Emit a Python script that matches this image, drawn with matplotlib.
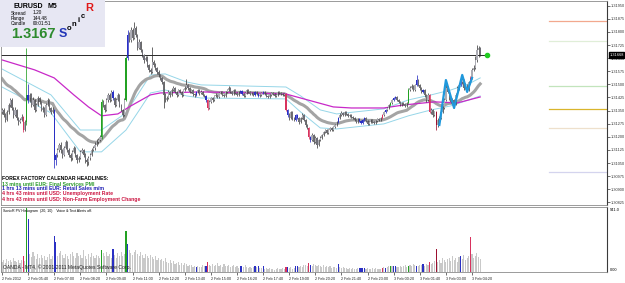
import numpy as np
import pandas as pd
import matplotlib
matplotlib.use("Agg")
import matplotlib.pyplot as plt
import matplotlib.transforms as mtransforms
from matplotlib.patches import Rectangle

plt.rcParams['font.family'] = ['Liberation Sans', 'DejaVu Sans']

# prices are kept in points (0.00001) above 1.30000, one entry per M5 bar
BASE = 1.30000
first_open = 1340
close_pts = [1354, 1325, 1297, 1342, 1382, 1411, 1365, 1325, 1354, 1308, 1285, 1297, 1314, 1239, 1285,
             1440,
             1411, 1440, 1382, 1411, 1354, 1382, 1422, 1400, 1354, 1365, 1325, 1382, 1411, 1365, 1342, 1354,
             1068,
             1096, 1125, 1154, 1125, 1096, 1136, 1171, 1125, 1096, 1079, 1114, 1136, 1096, 1068, 1079, 1114,
             1125, 1096, 1068, 1056, 1079, 1096, 1125, 1136, 1154, 1171, 1182, 1199,
             1400,
             1382, 1354, 1411, 1440, 1411, 1457, 1422, 1382, 1411, 1440, 1382, 1354, 1325, 1411,
             1651, 1783,
             1754, 1811, 1766, 1823, 1783, 1708, 1743,
             1697, 1668, 1640, 1651, 1611, 1583, 1571, 1628, 1611, 1594, 1571, 1554, 1537,
             1514, 1440, 1411, 1422, 1457, 1440, 1468, 1480, 1457, 1440, 1468, 1457, 1440, 1468, 1480, 1497,
             1480, 1457, 1468, 1445, 1440, 1457, 1468, 1451,
             1457, 1440, 1434, 1411, 1365, 1400, 1422, 1411, 1434, 1440, 1428, 1451, 1457, 1440, 1434, 1457,
             1468, 1480, 1457, 1445, 1468, 1451, 1440, 1457, 1462, 1445, 1434, 1451, 1468, 1457, 1445,
             1451, 1440, 1457, 1445, 1434, 1440, 1451, 1457, 1445, 1434, 1428, 1440, 1451, 1445, 1434, 1440,
             1457, 1451, 1445, 1440, 1445,
             1354,
             1325, 1308, 1342, 1308, 1297, 1325, 1308, 1285, 1308,
             1325, 1297, 1268, 1251, 1199, 1182, 1211, 1171, 1194, 1154, 1182,
             1194, 1211, 1228, 1239, 1222, 1239, 1251, 1239, 1257, 1268, 1285,
             1308, 1325, 1337, 1325, 1342, 1331, 1320, 1325, 1314,
             1308, 1297, 1285, 1302, 1291, 1279, 1297, 1308, 1291, 1274, 1285, 1297, 1285, 1279, 1291, 1302,
             1297, 1308,
             1325, 1342, 1354, 1365, 1382, 1394, 1411, 1422, 1428,
             1411, 1400, 1382, 1394, 1388, 1377, 1394,
             1468,
             1480, 1491, 1468, 1497, 1525, 1497, 1480, 1457, 1468, 1440,
             1411, 1440,
             1342,
             1354, 1325, 1342, 1268, 1297, 1308, 1342, 1365,
             1411, 1480, 1457, 1422, 1400, 1411, 1388, 1440, 1480, 1497, 1514,
             1525, 1480, 1497, 1468, 1514, 1537, 1583, 1594,
             1640, 1697, 1708, 1668]
high_pts = [1366, 1365, 1334, 1355, 1396, 1420, 1424, 1372, 1368, 1360, 1315, 1310, 1328, 1320, 1296,
            1708,
            1500, 1452, 1448, 1425, 1418, 1395, 1434, 1430, 1406, 1378, 1372, 1392, 1422, 1418, 1372, 1368,
            1362,
            1110, 1138, 1165, 1168, 1132, 1148, 1182, 1178, 1134, 1105, 1125, 1150, 1142, 1102, 1092, 1126,
            1138, 1132, 1105, 1080, 1090, 1108, 1136, 1150, 1168, 1185, 1195, 1210,
            1417,
            1412, 1390, 1422, 1452, 1448, 1470, 1466, 1428, 1420, 1450, 1446, 1390, 1360, 1420,
            1660, 1811,
            1800, 1830, 1820, 1857, 1835, 1790, 1760,
            1750, 1705, 1675, 1665, 1660, 1618, 1592, 1714, 1640, 1620, 1600, 1580, 1562,
            1545, 1520, 1448, 1435, 1466, 1463, 1478, 1490, 1486, 1462, 1475, 1474, 1462, 1476, 1488, 1531,
            1505, 1485, 1476, 1472, 1452, 1465, 1475, 1474,
            1466, 1462, 1446, 1440, 1416, 1408, 1430, 1428, 1442, 1448, 1446, 1458, 1465, 1462, 1446, 1464,
            1476, 1488, 1485, 1462, 1474, 1472, 1456, 1464, 1470, 1468, 1450, 1458, 1475, 1472, 1462,
            1458, 1456, 1464, 1462, 1450, 1446, 1458, 1464, 1462, 1450, 1440, 1447, 1458, 1456, 1450, 1446,
            1464, 1462, 1456, 1450, 1452,
            1450,
            1360, 1335, 1350, 1348, 1315, 1332, 1330, 1314, 1316,
            1334, 1330, 1302, 1275, 1256, 1205, 1220, 1215, 1202, 1198, 1190,
            1202, 1218, 1236, 1246, 1244, 1245, 1258, 1256, 1264, 1275, 1292,
            1316, 1334, 1345, 1342, 1350, 1348, 1338, 1332, 1330,
            1320, 1314, 1302, 1308, 1308, 1296, 1304, 1315, 1312, 1296, 1292, 1304, 1302, 1290, 1298, 1308,
            1306, 1315,
            1332, 1350, 1362, 1372, 1390, 1402, 1418, 1430, 1436,
            1434, 1416, 1406, 1400, 1400, 1394, 1400,
            1480,
            1490, 1500, 1496, 1505, 1554, 1530, 1502, 1486, 1476, 1474,
            1446, 1448,
            1446,
            1366, 1360, 1350, 1348, 1305, 1318, 1350, 1374,
            1420, 1525, 1490, 1462, 1430, 1420, 1416, 1448, 1490, 1508, 1524,
            1554, 1532, 1506, 1502, 1522, 1546, 1594, 1610,
            1660, 1726, 1720, 1712]
low_pts = [1328, 1314, 1282, 1290, 1333, 1370, 1356, 1310, 1318, 1296, 1270, 1278, 1290, 1228, 1232,
           1268,
           1395, 1400, 1370, 1376, 1342, 1348, 1375, 1390, 1345, 1340, 1315, 1318, 1375, 1355, 1330, 1335,
           1022,
           1040, 1085, 1115, 1110, 1080, 1088, 1128, 1112, 1082, 1062, 1070, 1105, 1085, 1050, 1055, 1072,
           1105, 1084, 1052, 1035, 1040, 1070, 1088, 1118, 1125, 1145, 1160, 1175,
           1190,
           1370, 1342, 1348, 1402, 1400, 1405, 1410, 1370, 1375, 1405, 1372, 1345, 1312, 1318,
           1405, 1640,
           1740, 1745, 1755, 1760, 1770, 1695, 1700,
           1685, 1655, 1625, 1632, 1600, 1570, 1560, 1565, 1600, 1580, 1560, 1545, 1525,
           1500, 1365, 1398, 1405, 1415, 1430, 1432, 1460, 1448, 1430, 1434, 1448, 1428, 1435, 1460, 1474,
           1470, 1448, 1450, 1436, 1430, 1434, 1450, 1442,
           1445, 1432, 1425, 1402, 1354, 1360, 1395, 1402, 1405, 1428, 1420, 1422, 1445, 1432, 1426, 1430,
           1450, 1462, 1450, 1438, 1440, 1444, 1432, 1434, 1450, 1438, 1428, 1430, 1446, 1450, 1438,
           1440, 1434, 1435, 1438, 1428, 1428, 1436, 1446, 1440, 1428, 1420, 1422, 1436, 1438, 1428, 1428,
           1436, 1445, 1438, 1434, 1436,
           1348,
           1315, 1298, 1302, 1298, 1288, 1290, 1300, 1276, 1280,
           1302, 1290, 1258, 1242, 1190, 1170, 1175, 1160, 1165, 1136, 1148,
           1176, 1188, 1205, 1222, 1214, 1216, 1234, 1232, 1234, 1250, 1262,
           1280, 1302, 1318, 1318, 1320, 1325, 1312, 1314, 1306,
           1300, 1290, 1278, 1280, 1285, 1272, 1274, 1292, 1285, 1268, 1268, 1280, 1278, 1272, 1274, 1286,
           1290, 1292,
           1302, 1320, 1336, 1348, 1360, 1376, 1388, 1405, 1415,
           1404, 1392, 1375, 1376, 1380, 1370, 1372,
           1390,
           1460, 1472, 1460, 1462, 1490, 1488, 1470, 1448, 1450, 1430,
           1402, 1405,
           1336,
           1330, 1315, 1318, 1239, 1255, 1290, 1300, 1336,
           1360, 1405, 1448, 1412, 1392, 1394, 1365, 1382, 1432, 1470, 1490,
           1505, 1470, 1472, 1457, 1462, 1505, 1530, 1575,
           1588, 1630, 1655, 1660]
volume = [150, 170, 140, 190, 160, 175, 145, 200, 165, 150, 180, 135, 170, 235, 160,
          941, 780,
          260, 220, 300, 240, 190, 270, 210, 250, 200, 230, 180, 215, 260, 195, 240,
          529, 441,
          230, 280, 310, 250, 200, 270, 230, 190, 260, 300, 240, 210, 280, 230, 250, 200, 320, 240, 190,
          260, 220, 280, 240, 210, 250, 230, 200,
          323,
          280, 240, 300, 230, 260, 200, 338, 250, 210, 280, 240, 300, 230, 260,
          603, 412,
          320, 280, 250, 300, 330, 260, 230, 290, 250, 210, 270, 240, 200, 250, 220, 190, 230, 180, 210, 170,
          190, 160, 200, 150, 140, 170, 130, 160, 120, 140, 150, 110, 130, 100, 140, 120, 90, 110, 100, 80,
          95, 76, 90, 70,
          80, 100, 90, 86, 143, 110, 95, 120, 85, 100, 130, 90, 110, 80, 120, 95, 85, 100, 70, 90, 110, 80,
          95, 60, 86, 90, 75, 100, 80, 65, 70,
          60, 75, 86, 70, 86, 55, 65, 86, 50, 60, 45, 55, 40, 50, 35, 45, 55, 40, 50, 60, 45,
          80,
          70, 60, 75, 50, 65, 86, 86, 70, 95, 80, 100, 110, 85, 134, 110, 90, 120, 100, 85, 110, 95, 80,
          100, 75, 90, 70, 85, 60, 80, 75, 65,
          124,
          70, 60, 80, 55, 65, 50, 60, 45, 55, 50, 40, 60, 55, 60, 62, 58, 45, 55, 40, 50, 60, 45, 55, 50,
          40, 48,
          60, 70, 60, 80, 90, 95, 85, 95, 95,
          80, 70, 90, 75, 85, 100, 80, 95, 110, 90, 120, 100, 95, 85, 100, 110, 124, 90, 120, 100,
          143,
          120, 140, 160, 334, 150, 180, 130, 200, 170, 150, 190, 210, 160, 230, 180, 200, 150, 220, 243,
          190, 250, 170, 200, 230, 515, 260, 210, 240, 280, 220, 190]

# bars coloured by the PV histogram (bar index: colour code)
pva_bars = {13: 'r', 15: 'g', 16: 'b', 32: 'b', 33: 'b', 61: 'g', 68: 'b', 76: 'g', 77: 'b',
            119: 'b', 125: 'b', 126: 'r', 146: 'b', 147: 'b', 155: 'b', 157: 'b', 160: 'b',
            174: 'r', 175: 'b', 180: 'b', 181: 'b', 188: 'r', 189: 'b', 206: 'b', 219: 'b',
            220: 'b', 221: 'b', 222: 'b', 233: 'r', 235: 'b', 238: 'g', 240: 'b', 241: 'b',
            249: 'g', 254: 'b', 258: 'b', 262: 'r', 266: 'm', 281: 'b', 287: 'r'}
pva_colors = {'g': '#23a123', 'b': '#2a30c4', 'r': '#d8325e', 'm': '#9c1030'}

# magenta trend line and light blue band, read at a few bars
trend_bar = [0, 20, 32, 44, 53, 61, 71, 79, 91, 97, 122, 153, 174, 183, 203, 214, 234, 246, 265, 279, 293]
trend_pts = [1640, 1583, 1537, 1440, 1371, 1320, 1331, 1377, 1440, 1451, 1457, 1451, 1445, 1422, 1371,
             1365, 1365, 1382, 1400, 1394, 1428]
band_bar = [0, 30, 48, 61, 76, 85, 91, 100, 113, 122, 174, 183, 195, 205, 234, 249, 263, 275, 286, 293]
band_up_pts = [1588, 1440, 1239, 1239, 1337, 1468, 1554, 1560, 1514, 1497, 1485, 1434, 1354, 1331,
               1360, 1411, 1440, 1468, 1503, 1537]
band_dn_pts = [1485, 1337, 1114, 1114, 1239, 1365, 1451, 1468, 1434, 1422, 1417, 1342, 1251, 1245,
               1274, 1320, 1354, 1377, 1411, 1434]
# EMA 34 of the closes just before the first bar
dragon_seed = 1543

pivot_pts = [1865, 1748, 1493, 1360, 1251, 999]
pivot_colors = ['#f2a88e', '#e0eed8', '#c2e4bc', '#d9b52c', '#eee0cc', '#d4d4ee']
pivot_start = 335
hline_pts = 1668
hline_end = 297
zigzag_bar = [268, 272, 277, 282, 285, 288]
zigzag_pts = [1268, 1525, 1365, 1554, 1457, 1537]

ytick_pts = [1950, 1875, 1800, 1725, 1650, 1575, 1500, 1425, 1350, 1275, 1200, 1125, 1050, 975, 900, 825]
xtick_labels = ["2 Feb 2012", "2 Feb 05:40", "2 Feb 07:00", "2 Feb 08:20", "2 Feb 09:40", "2 Feb 11:00",
                "2 Feb 12:20", "2 Feb 13:40", "2 Feb 15:00", "2 Feb 16:20", "2 Feb 17:40", "2 Feb 19:00",
                "2 Feb 20:20", "2 Feb 21:40", "2 Feb 23:00", "3 Feb 00:20", "3 Feb 01:40", "3 Feb 03:00",
                "3 Feb 04:20"]
news_lines = ["FOREX FACTORY CALENDAR HEADLINES:",
              "13 mins until EUR: Final Services PMI",
              "1 hrs 13 mins until EUR: Retail Sales m/m",
              "4 hrs 43 mins until USD: Unemployment Rate",
              "4 hrs 43 mins until USD: Non-Farm Employment Change"]
news_colors = ['black', '#2b9a2b', '#1c1cb4', '#cc1642', '#cc1642']


def px(v):
    return BASE + np.asarray(v, dtype=float) / 1e5


def ema(values, seed, span=34):
    s = pd.Series([seed] + list(values), dtype=float)
    return s.ewm(span=span, adjust=False).mean().values[1:]


n = len(close_pts)
x = np.arange(n)
c = np.array(close_pts)
o = np.r_[first_open, c[:-1]]
hi = np.array(high_pts)
lo = np.array(low_pts)

fig = plt.figure(figsize=(6.25, 2.83), dpi=100)
W, H = 625, 283


def fx(p):
    return p / W


def fy(p):
    return 1 - p / H


ax = fig.add_axes([fx(1), fy(205), 606 / W, 204 / H])
ax2 = fig.add_axes([fx(1), fy(272), 606 / W, 65 / H], sharex=ax)
for a in (ax, ax2):
    for s in a.spines.values():
        s.set_color('#8a8a8a')
        s.set_linewidth(0.6)
    a.spines['right'].set_color('#3a3a3a')
    a.spines['right'].set_linewidth(0.8)

# moving averages
ax.plot(band_bar, px(band_up_pts), color='#96d6e8', lw=0.7, zorder=1)
ax.plot(band_bar, px(band_dn_pts), color='#96d6e8', lw=0.7, zorder=1)
ax.plot(x, px(ema(close_pts, dragon_seed)), color='#a4a4a4', lw=2.2, zorder=1)
ax.plot(trend_bar, px(trend_pts), color='#c828c8', lw=0.9, zorder=1)

# candles
wick_cols, body_cols = [], []
for i in range(n):
    if i in pva_bars:
        col = pva_colors[pva_bars[i]]
        wick_cols.append(col)
        body_cols.append(col)
    else:
        wick_cols.append('#3e3e3e')
        body_cols.append('#acacb4' if c[i] >= o[i] else '#6e6e76')
ax.vlines(x, px(lo), px(hi), colors=wick_cols, lw=0.55, zorder=2)
body_h = np.maximum(np.abs(c - o), 3) / 1e5
ax.bar(x, body_h, bottom=px(np.minimum(o, c)), width=0.75, color=body_cols, lw=0, zorder=3)

ax.plot(zigzag_bar, px(zigzag_pts), color='#1f98dc', lw=1.6, zorder=4)
ax.plot([-1, hline_end], [px(hline_pts)] * 2, color='#2a2a2a', lw=0.7, zorder=2)
ax.plot([hline_end], [px(hline_pts)], 'o', color='#22cc22', ms=3, zorder=5)
for lvl, col in zip(pivot_pts, pivot_colors):
    ax.plot([pivot_start, 380], [px(lvl)] * 2, color=col, lw=0.9, zorder=1)

ax.set_xlim(-0.6, 370.7)
ax.set_ylim(px(810), px(1977))
ax.yaxis.tick_right()
ax.set_yticks(px(ytick_pts))
ax.set_yticklabels(["%.5f" % v for v in px(ytick_pts)], fontsize=2.8, color='#222222')
ax.tick_params(axis='y', length=2, width=0.5, pad=1, colors='#333333')
ax.tick_params(axis='x', bottom=False, labelbottom=False)
trans = mtransforms.blended_transform_factory(ax.transAxes, ax.transData)
ax.text(1.004, px(hline_pts), "%.5f" % px(hline_pts), transform=trans, fontsize=2.8, color='white',
        va='center', ha='left', bbox=dict(boxstyle='square,pad=0.15', fc='black', ec='black'), zorder=6)

# volume histogram
vol_cols = [pva_colors[pva_bars[i]] if i in pva_bars else '#c9c9c9' for i in range(n)]
ax2.bar(x, volume, width=0.7, color=vol_cols, lw=0)
ax2.set_ylim(0, 941 * 1.02)
ax2.set_yticks([])
ax2.set_xticks(np.arange(0, 16 * len(xtick_labels), 16))
ax2.set_xticklabels(xtick_labels, fontsize=2.7, ha='left', color='#222222')
ax2.tick_params(axis='x', length=2, width=0.4, pad=1.5)
ax2.text(1.004, 0.99, "941.0", transform=ax2.transAxes, fontsize=2.8, va='top', ha='left')
ax2.text(1.004, 0.0, "0.00", transform=ax2.transAxes, fontsize=2.8, va='bottom', ha='left')
ax2.text(0.004, 0.97, "SonicR PV Histogram  (20, 10)    Voice & Text Alerts off.", transform=ax2.transAxes,
         fontsize=2.6, va='top', ha='left')
ax2.text(0.004, 0.03, "OANDA - MT4, \u00a9 2001-2011 MetaQuotes Software Corp.", transform=ax2.transAxes,
         fontsize=3.6, va='bottom', ha='left', color='#222222')

# info box top-left
fig.patches.append(Rectangle((0, fy(47)), fx(105), 47 / H, transform=fig.transFigure,
                             fc='#e7e7f3', ec='none', zorder=3))
fig.text(fx(13), fy(7), "EURUSD", fontsize=5, fontweight='bold', va='center', zorder=4)
fig.text(fx(48), fy(7), "M5", fontsize=5, fontweight='bold', va='center', zorder=4)
for row, (lab, val) in enumerate([("Spread", "1.20"), ("Range", "144.48"), ("Candle", "00:01:51")]):
    fig.text(fx(11), fy(13 + 5.3 * row), lab, fontsize=3.4, va='center', zorder=4)
    fig.text(fx(33), fy(13 + 5.3 * row), val, fontsize=3.4, va='center', zorder=4)
fig.text(fx(11), fy(34), "1.3167", fontsize=10.5, fontweight='bold', color='#2e8b2e', va='center', zorder=4)
fig.text(fx(63), fy(34), "S", fontsize=9, fontweight='bold', color='#2236b8', va='center', ha='center', zorder=4)
for ch, cx, cy in [("o", 69, 28.5), ("n", 74, 24.5), ("i", 78.5, 20.5), ("c", 82.5, 17)]:
    fig.text(fx(cx), fy(cy), ch, fontsize=5.5, fontweight='bold', va='center', ha='center', zorder=4)
fig.text(fx(89.5), fy(8), "R", fontsize=8, fontweight='bold', color='#e01818', va='center', ha='center', zorder=4)

# news headlines
for k, (line, col) in enumerate(zip(news_lines, news_colors)):
    fig.text(fx(2), fy(179 + 5 * k), line, fontsize=3.7, fontweight='bold', color=col, va='center', zorder=4)

fig.savefig("out.png", dpi=100, facecolor='white')
